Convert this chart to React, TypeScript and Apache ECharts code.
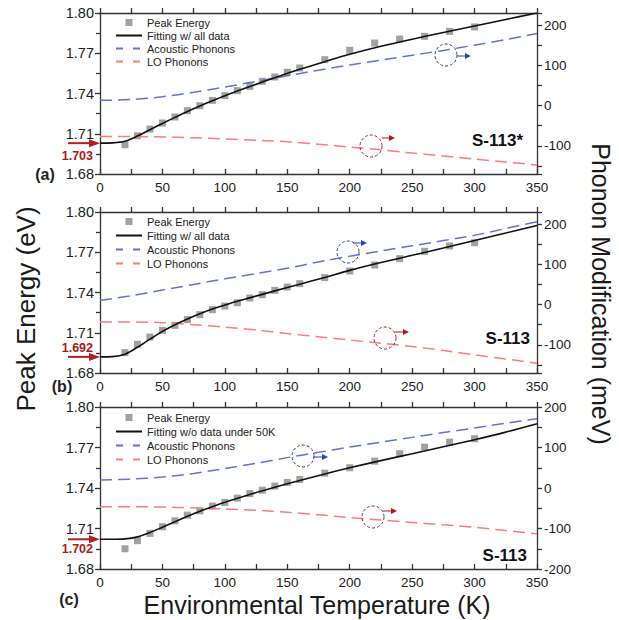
import React, { useEffect, useRef } from "react";
import * as echarts from "echarts";

// ---------- data ----------
const pointT = [20, 30, 40, 50, 60, 70, 80, 90, 100, 110, 120, 130, 140, 150, 160, 180, 200, 220, 240, 260, 280, 300];
const peakA = [1.7018, 1.7085, 1.7135, 1.718, 1.7225, 1.7272, 1.7309, 1.7349, 1.7384, 1.7421, 1.7453, 1.7491, 1.7523, 1.7558, 1.759, 1.7652, 1.7722, 1.7776, 1.7806, 1.7826, 1.7863, 1.7896];
const peakB = [1.6952, 1.7014, 1.7068, 1.7118, 1.7155, 1.7198, 1.7235, 1.7272, 1.7299, 1.7324, 1.7359, 1.7384, 1.7416, 1.7441, 1.7466, 1.7511, 1.756, 1.7605, 1.7652, 1.7707, 1.7747, 1.7771];
const peakC = [1.695, 1.701, 1.7064, 1.7113, 1.7157, 1.7199, 1.7231, 1.7266, 1.7293, 1.7325, 1.7359, 1.7384, 1.7414, 1.7441, 1.7463, 1.751, 1.755, 1.7599, 1.7654, 1.7703, 1.774, 1.7765];

const fitT = [0, 10, 20, 30, 40, 50, 60, 70, 80, 90, 100, 120, 140, 160, 180, 200, 225, 250, 275, 300, 325, 350];
const fitA = [1.703, 1.7032, 1.7044, 1.7083, 1.713, 1.7177, 1.7222, 1.7266, 1.7307, 1.7346, 1.7383, 1.7452, 1.7518, 1.758, 1.7637, 1.7692, 1.7752, 1.7805, 1.7855, 1.7903, 1.7952, 1.8];
const fitB = [1.692, 1.6922, 1.694, 1.6992, 1.7052, 1.711, 1.716, 1.7203, 1.7242, 1.7277, 1.7307, 1.736, 1.7412, 1.7462, 1.7512, 1.7565, 1.7623, 1.7677, 1.7732, 1.7788, 1.7843, 1.79];
const fitC = [1.702, 1.702, 1.7023, 1.7038, 1.707, 1.711, 1.715, 1.719, 1.7228, 1.7262, 1.7294, 1.7352, 1.7405, 1.7456, 1.7504, 1.755, 1.7603, 1.7654, 1.7706, 1.7758, 1.7814, 1.7876];

const phononT = [0, 25, 50, 75, 100, 125, 150, 175, 200, 225, 250, 275, 300, 325, 350];
const acousticA = [13, 15, 22, 33, 46, 60, 74, 88, 101, 113, 125, 137, 150, 164, 179];
const acousticB = [10, 22, 36, 50, 64, 77, 90, 106, 120, 133, 146, 159, 172, 189, 206];
const acousticC = [20, 22, 27, 36, 48, 61, 75, 88, 101, 113, 125, 137, 148, 160, 171];
const loA = [-77, -77, -78, -80, -83, -86, -90, -96, -103, -110, -118, -125, -133, -140, -148];
const loB = [-43, -43, -45, -50, -56, -63, -72, -80, -88, -96, -104, -114, -125, -135, -146];
const loC = [-46, -46, -47, -49, -52, -55, -60, -66, -73, -79, -85, -91, -97, -105, -113];

const panelTags = ["(a)", "(b)", "(c)"];
const sampleNames = ["S-113*", "S-113", "S-113"];
const fitNames = ["Fitting w/ all data", "Fitting w/ all data", "Fitting w/o data under 50K"];
const energyRange = [1.68, 1.8];
const phononMin = [-170, -170, -200];
const phononMax = [230, 230, 200];
const tempRange = [0, 350];

const peaks = [peakA, peakB, peakC];
const fits = [fitA, fitB, fitC];
const acoustics = [acousticA, acousticB, acousticC];
const los = [loA, loB, loC];

// ---------- layout ----------
const FONT = "'Liberation Sans', Arial, Helvetica, sans-serif";
const gridTops = [13, 212, 407];
const gridHeights = [161, 161, 162];
const legendTops = [17, 216, 412];
const legendGaps = [2, 3, 3];
const AXIS = "#333";
const BLUE = "#6670d6";
const RED = "#ff7b7b";

const zip = (xs: number[], ys: number[]) => xs.map((x, i) => [x, ys[i]]);

function buildOption() {
  const grid: any[] = [];
  const xAxis: any[] = [];
  const yAxis: any[] = [];
  const series: any[] = [];
  const legend: any[] = [];
  const hiddenSymbol = { opacity: 0, color: "rgba(0,0,0,0)", borderWidth: 0 };
  for (let i = 0; i < 3; i++) {
    grid.push({ left: 100, width: 437, top: gridTops[i], height: gridHeights[i] });
    const lineStyle = { color: AXIS, width: 1.3 };
    xAxis.push({
      type: "value", gridIndex: i, position: "bottom", min: tempRange[0], max: tempRange[1], interval: 50,
      axisLine: { show: true, onZero: false, lineStyle },
      axisTick: { show: true, inside: true, length: 5, lineStyle },
      minorTick: { show: true, splitNumber: 2, length: 5, lineStyle },
      axisLabel: { fontSize: 13.5, color: "#222", margin: 6, fontFamily: FONT },
      splitLine: { show: false },
    });
    xAxis.push({
      type: "value", gridIndex: i, position: "top", min: tempRange[0], max: tempRange[1], interval: 50,
      axisLine: { show: true, onZero: false, lineStyle },
      axisTick: { show: true, inside: false, length: 5, lineStyle },
      minorTick: { show: true, splitNumber: 2, length: 5, lineStyle },
      axisLabel: { show: false },
      splitLine: { show: false },
    });
    yAxis.push({
      type: "value", gridIndex: i, position: "left", min: energyRange[0], max: energyRange[1], interval: 0.03,
      axisLine: { show: true, onZero: false, lineStyle },
      axisTick: { show: true, inside: false, length: 5, lineStyle },
      minorTick: { show: true, splitNumber: 2, length: 4, lineStyle },
      axisLabel: { fontSize: 14.5, color: "#222", margin: 6, fontFamily: FONT, formatter: (v: number) => v.toFixed(2) },
      splitLine: { show: false },
    });
    const right: any = {
      type: "value", gridIndex: i, position: "right", min: phononMin[i], max: phononMax[i],
      axisLine: { show: true, onZero: false, lineStyle },
      axisTick: { show: true, inside: false, length: 5, lineStyle },
      axisLabel: {
        fontSize: 13.5, color: "#222", margin: 7, fontFamily: FONT,
        formatter: (v: number) => (Math.abs(Math.round(v) % 100) === 0 && Math.abs(v - Math.round(v)) < 1e-6 ? String(Math.round(v)) : ""),
      },
      splitLine: { show: false },
    };
    if (phononMin[i] % 50 === 0) right.interval = 50;
    else right.splitNumber = 8;
    yAxis.push(right);

    series.push({
      type: "scatter", name: "Peak Energy", xAxisIndex: 2 * i, yAxisIndex: 2 * i,
      data: zip(pointT, peaks[i]), symbol: "rect", symbolSize: 7,
      itemStyle: { color: "#8a8a8a" }, z: 2,
    });
    series.push({
      type: "line", name: fitNames[i], xAxisIndex: 2 * i, yAxisIndex: 2 * i,
      data: zip(fitT, fits[i]), smooth: 0.3, symbol: "none",
      lineStyle: { color: "#111", width: 1.6 }, itemStyle: { color: "#111" }, z: 4,
    });
    series.push({
      type: "line", name: "Acoustic Phonons", xAxisIndex: 2 * i, yAxisIndex: 2 * i + 1,
      data: zip(phononT, acoustics[i]), smooth: 0.3, symbol: "none",
      lineStyle: { color: BLUE, width: 1.5, type: [12, 6] }, itemStyle: { color: BLUE }, z: 3,
    });
    series.push({
      type: "line", name: "LO Phonons", xAxisIndex: 2 * i, yAxisIndex: 2 * i + 1,
      data: zip(phononT, los[i]), smooth: 0.3, symbol: "none",
      lineStyle: { color: RED, width: 1.5, type: [12, 6] }, itemStyle: { color: RED }, z: 3,
    });
    legend.push({
      orient: "vertical", left: 115, top: legendTops[i], itemWidth: 26, itemHeight: 7, itemGap: legendGaps[i],
      selectedMode: false, padding: 0,
      textStyle: { fontSize: 11, color: "#222", fontFamily: FONT },
      data: [
        { name: "Peak Energy", icon: "path://M0,0H1V1H0Z" },
        { name: fitNames[i], itemStyle: hiddenSymbol },
        { name: "Acoustic Phonons", lineStyle: { type: [7, 10] }, itemStyle: hiddenSymbol },
        { name: "LO Phonons", lineStyle: { type: [7, 10] }, itemStyle: hiddenSymbol },
      ],
    });
  }
  return {
    animation: false,
    backgroundColor: "#fff",
    textStyle: { fontFamily: FONT },
    grid, xAxis, yAxis, series, legend,
  };
}

function arrow(x1: number, y: number, x2: number, color: string, width: number, headLen: number, headHalf: number) {
  return [
    { type: "line", shape: { x1, y1: y, x2: x2 - headLen + 1, y2: y }, style: { stroke: color, lineWidth: width }, z: 10 },
    { type: "polygon", shape: { points: [[x2, y], [x2 - headLen, y - headHalf], [x2 - headLen, y + headHalf]] }, style: { fill: color }, z: 10 },
  ];
}

function circle(cx: number, cy: number, color: string) {
  return { type: "circle", shape: { cx, cy, r: 11 }, style: { fill: "none", stroke: color, lineWidth: 1, lineDash: [3, 2] }, z: 10 };
}

function buildGraphics(chart: any) {
  const g: any[] = [];
  g.push({
    type: "text", x: 26, y: 309, rotation: Math.PI / 2,
    style: { text: "Peak Energy (eV)", fontSize: 26, fill: "#1a1a1a", fontFamily: FONT, align: "center", verticalAlign: "middle" },
  });
  g.push({
    type: "text", x: 601, y: 294, rotation: -Math.PI / 2,
    style: { text: "Phonon Modification (meV)", fontSize: 25, fill: "#1a1a1a", fontFamily: FONT, align: "center", verticalAlign: "middle" },
  });
  g.push({
    type: "text", x: 317, y: 605,
    style: { text: "Environmental Temperature (K)", fontSize: 25, fill: "#1a1a1a", fontFamily: FONT, align: "center", verticalAlign: "middle" },
  });
  const tagPos = [[45, 174], [62, 386], [69, 599]];
  const samplePos = [[523, 140], [530, 338], [527, 555]];
  const labelDy = [13, -9, 10];
  const blueCircles = [[446, 55, 457, 471, 56], [348, 252, 353, 367, 243], [303, 456, 313, 328, 457]];
  const redCircles = [[371, 146, 382, 395, 138], [385, 338, 395, 409, 332], [373, 517, 383, 397, 511]];
  for (let i = 0; i < 3; i++) {
    const p = chart.convertToPixel({ xAxisIndex: 2 * i, yAxisIndex: 2 * i }, [0, fits[i][0]]);
    const ay = p[1];
    const ax = p[0];
    g.push(...arrow(68, ay, ax, "#b21f1f", 2, 11, 4));
    g.push({
      type: "text", x: 93, y: ay + labelDy[i],
      style: { text: fits[i][0].toFixed(3), fontSize: 12.5, fontWeight: "bold", fill: "#a51c1c", fontFamily: FONT, align: "right", verticalAlign: "middle" },
    });
    g.push({
      type: "text", x: tagPos[i][0], y: tagPos[i][1],
      style: { text: panelTags[i], fontSize: 16, fontWeight: "bold", fill: "#222", fontFamily: FONT, align: "center", verticalAlign: "middle" },
    });
    g.push({
      type: "text", x: samplePos[i][0], y: samplePos[i][1],
      style: { text: sampleNames[i], fontSize: 17, fontWeight: "bold", fill: "#111", fontFamily: FONT, align: "right", verticalAlign: "middle" },
    });
    const b = blueCircles[i];
    g.push(circle(b[0], b[1], "#2f3d8e"));
    g.push(...arrow(b[2], b[4], b[3], "#2446b0", 1, 6, 3));
    const r = redCircles[i];
    g.push(circle(r[0], r[1], "#8e2a2a"));
    g.push(...arrow(r[2], r[4], r[3], "#b01818", 1, 6, 3));
  }
  return g;
}

export default function App() {
  const ref = useRef<HTMLDivElement>(null);
  useEffect(() => {
    if (!ref.current) return;
    const chart = echarts.init(ref.current, undefined, { renderer: "svg" });
    chart.setOption(buildOption() as any);
    chart.setOption({ graphic: buildGraphics(chart) } as any);
    return () => chart.dispose();
  }, []);
  return (
    <div
      ref={ref}
      style={{ position: "fixed", left: 0, top: 0, width: 619, height: 620, background: "#fff" }}
    />
  );
}
